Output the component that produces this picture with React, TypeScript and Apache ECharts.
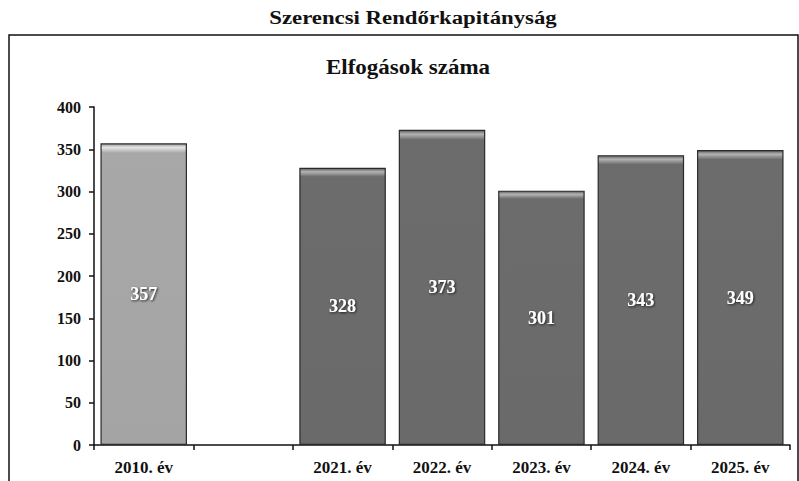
import React, { useEffect, useRef } from "react";
import * as echarts from "echarts";

const categories = ["2010. év", "", "2021. év", "2022. év", "2023. év", "2024. év", "2025. év"];
const values: (number | null)[] = [357, null, 328, 373, 301, 343, 349];
const yTicks = [0, 50, 100, 150, 200, 250, 300, 350, 400];
const mainTitle = "Szerencsi Rendőrkapitányság";
const chartTitle = "Elfogások száma";

const serif = "'Liberation Serif', 'DejaVu Serif', serif";

export default function App() {
  const ref = useRef<HTMLDivElement>(null);
  useEffect(() => {
    if (!ref.current) return;
    const chart = echarts.init(ref.current, null, { renderer: "svg" });
    const barColor = (light: boolean) =>
      new echarts.graphic.LinearGradient(0, 0, 0, 1, [
        { offset: 0, color: light ? "#9a9a9a" : "#5e5e5e" },
        { offset: 0.012, color: light ? "#e4e4e4" : "#b4b4b4" },
        { offset: 0.03, color: light ? "#a8a8a8" : "#6c6c6c" },
        { offset: 1, color: light ? "#a4a4a4" : "#6a6a6a" },
      ]);
    chart.setOption({
      animation: false,
      backgroundColor: "#ffffff",
      graphic: [
        {
          type: "rect",
          shape: { x: 9, y: 35, width: 789, height: 460 },
          style: { fill: "none", stroke: "#111", lineWidth: 1.5 },
          silent: true,
        },
        {
          type: "text",
          x: 413,
          y: 18,
          scaleX: 1.2,
          style: {
            text: mainTitle,
            font: `bold 19px ${serif}`,
            fill: "#111",
            align: "center",
            verticalAlign: "middle",
          },
        },
        {
          type: "text",
          x: 408,
          y: 68,
          scaleX: 1.15,
          style: {
            text: chartTitle,
            font: `bold 20px ${serif}`,
            fill: "#111",
            align: "center",
            verticalAlign: "middle",
          },
        },
      ],
      grid: { left: 94, right: 9, top: 107, bottom: 36, containLabel: false },
      xAxis: {
        type: "category",
        data: categories,
        boundaryGap: true,
        axisLine: { lineStyle: { color: "#111", width: 1.5 } },
        axisTick: { show: true, alignWithLabel: false, length: 5, lineStyle: { color: "#111", width: 1.5 } },
        axisLabel: {
          fontFamily: serif,
          fontWeight: "bold",
          fontSize: 17,
          color: "#111",
          margin: 14,
          interval: 0,
        },
      },
      yAxis: {
        type: "value",
        min: yTicks[0],
        max: yTicks[yTicks.length - 1],
        interval: 50,
        splitLine: { show: false },
        axisLine: { show: true, lineStyle: { color: "#111", width: 1.5 } },
        axisTick: { show: true, length: 5, lineStyle: { color: "#111", width: 1.5 } },
        axisLabel: {
          fontFamily: serif,
          fontWeight: "bold",
          fontSize: 16,
          color: "#111",
          margin: 13,
        },
      },
      series: [
        {
          type: "bar",
          barWidth: "87%",
          data: values.map((v, i) =>
            v === null
              ? null
              : {
                  value: v,
                  itemStyle: {
                    color: barColor(i === 0),
                    borderColor: "#2a2a2a",
                    borderWidth: 1.2,
                  },
                }
          ),
          label: {
            show: true,
            position: "inside",
            fontFamily: serif,
            fontWeight: "bold",
            fontSize: 18,
            color: "#ffffff",
            textShadowColor: "#222",
            textShadowBlur: 2,
            textShadowOffsetX: 1,
            textShadowOffsetY: 1,
          },
        },
      ],
    });
    return () => chart.dispose();
  }, []);
  return <div ref={ref} style={{ width: 799, height: 481, position: "absolute", left: 0, top: 0 }} />;
}
